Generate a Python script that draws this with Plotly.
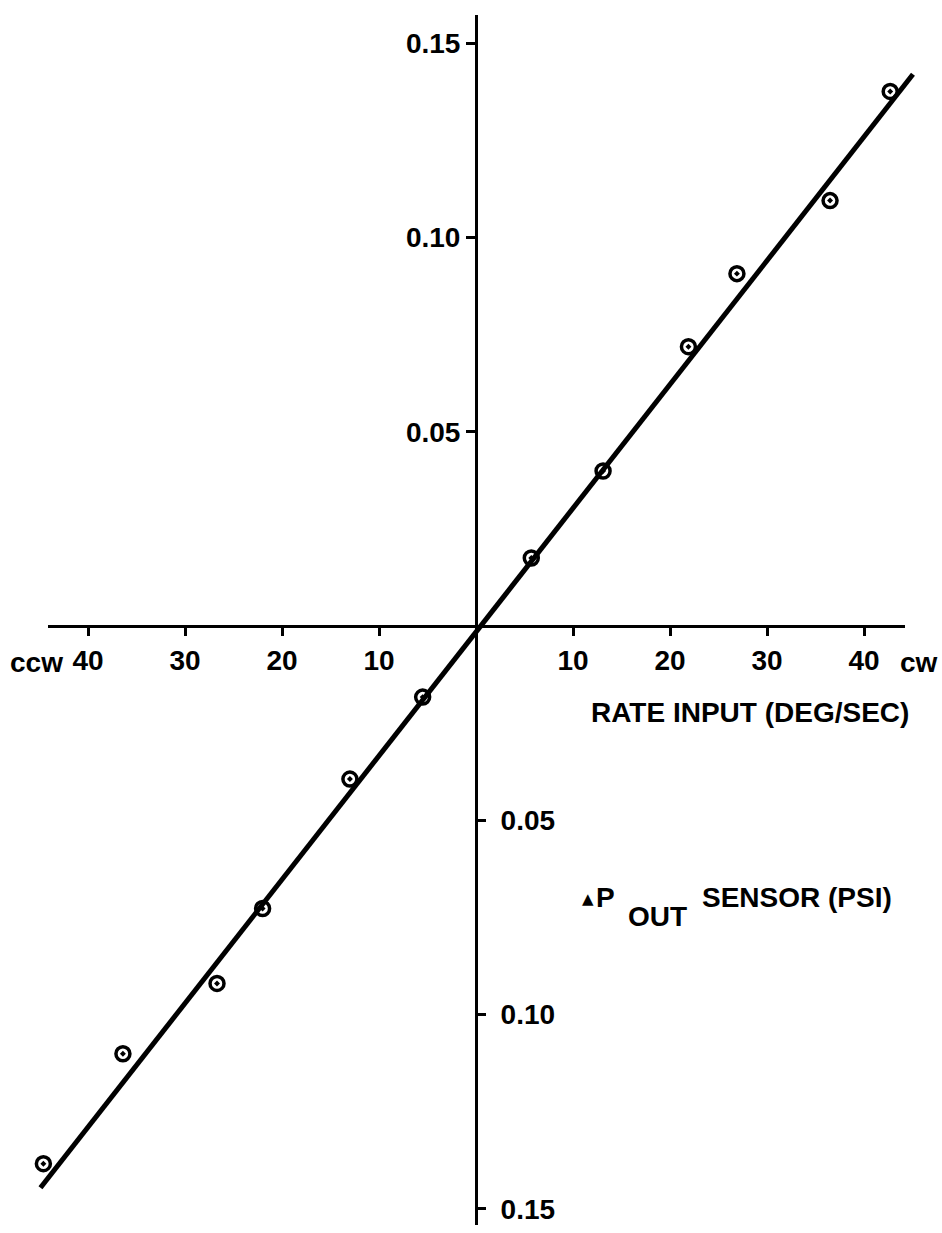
import plotly.graph_objects as go

# Measured response of the sensor: rate input (deg/s, ccw negative) vs. delta-P out (psi)
rate_deg_s = [-44.6, -36.4, -26.7, -22.0, -13.0, -5.5, 5.7, 13.1, 21.9, 26.9, 36.5, 42.7]
dp_out_psi = [-0.1384, -0.1101, -0.0920, -0.0727, -0.0394, -0.0183,
              0.0175, 0.0399, 0.0719, 0.0907, 0.1095, 0.1376]

# Straight-line fit drawn through the data
fit_rate = [-44.9, 45.05]
fit_dp = [-0.1446, 0.1420]

# Axis tick values and their printed labels (magnitudes only)
x_tick_vals = [-40, -30, -20, -10, 10, 20, 30, 40]
x_tick_text = ["40", "30", "20", "10", "10", "20", "30", "40"]
y_tick_vals_pos = [0.05, 0.10, 0.15]
y_tick_vals_neg = [-0.05, -0.10, -0.15]
y_tick_text = ["0.05", "0.10", "0.15"]

W, H = 942, 1233
FONT = "Liberation Sans, Arial, sans-serif"
FS = 28

# page geometry: origin of the crossed axes and scale of each axis
X0, Y0 = 476, 626
KX, KY = 9.7, 3885.0


def fx(px):
    return px / W


def fy(py):
    return (H - py) / H


def xr(p0, p1):
    return [(p0 - X0) / KX, (p1 - X0) / KX]


fig = go.Figure()

fig.add_trace(go.Scatter(
    x=fit_rate, y=fit_dp, mode="lines",
    line=dict(color="black", width=5), hoverinfo="skip", showlegend=False,
))
fig.add_trace(go.Scatter(
    x=rate_deg_s, y=dp_out_psi, mode="markers",
    marker=dict(symbol="circle-open-dot", size=14, color="black",
                line=dict(width=3.5, color="black")),
    showlegend=False,
))
# empty traces so the tick-only axes get their own subplots
fig.add_trace(go.Scatter(x=[], y=[], xaxis="x2", yaxis="y", showlegend=False))
fig.add_trace(go.Scatter(x=[], y=[], xaxis="x", yaxis="y2", showlegend=False))

tick_font = dict(family=FONT, size=FS, color="black", weight="bold")
y_range = [-(1225 - Y0) / KY, (Y0 - 15) / KY]

fig.update_layout(
    width=W, height=H,
    margin=dict(l=0, r=0, t=0, b=0),
    paper_bgcolor="white", plot_bgcolor="rgba(0,0,0,0)",
    xaxis=dict(
        domain=[fx(30), fx(925)], range=xr(30, 925),
        visible=False, fixedrange=True,
    ),
    xaxis2=dict(
        domain=[fx(48), fx(905)], range=xr(48, 905),
        anchor="free", position=fy(Y0), side="bottom",
        showline=True, linecolor="black", linewidth=3,
        ticks="outside", ticklen=8, tickwidth=2.5, tickcolor="black",
        tickvals=x_tick_vals, ticktext=x_tick_text, tickfont=tick_font,
        showgrid=False, zeroline=False, fixedrange=True,
    ),
    yaxis=dict(
        domain=[fy(1225), fy(15)], range=y_range,
        anchor="free", position=fx(X0), side="left",
        showline=True, linecolor="black", linewidth=3,
        ticks="outside", ticklen=9, tickwidth=2.5, tickcolor="black",
        tickvals=y_tick_vals_pos, ticktext=y_tick_text, tickfont=tick_font,
        showgrid=False, zeroline=False, fixedrange=True,
    ),
    yaxis2=dict(
        overlaying="y", range=y_range,
        anchor="free", position=fx(X0), side="right",
        showline=False,
        ticks="outside", ticklen=9, tickwidth=2.5, tickcolor="black",
        ticklabelstandoff=9,
        tickvals=y_tick_vals_neg, ticktext=y_tick_text, tickfont=tick_font,
        showgrid=False, zeroline=False, fixedrange=True,
    ),
    showlegend=False,
)

text_font = dict(family=FONT, size=FS, color="black", weight="bold")
annos = [
    dict(text="ccw", x=fx(36), y=fy(662), xanchor="center"),
    dict(text="cw", x=fx(919), y=fy(662), xanchor="center"),
    dict(text="RATE INPUT (DEG/SEC)", x=fx(590), y=fy(712), xanchor="left"),
    dict(text="▲", x=fx(581), y=fy(899), xanchor="left",
         font=dict(family="DejaVu Sans", size=15, color="black")),
    dict(text="P", x=fx(595), y=fy(898), xanchor="left"),
    dict(text="OUT", x=fx(627), y=fy(916), xanchor="left"),
    dict(text="SENSOR (PSI)", x=fx(701), y=fy(898), xanchor="left"),
]
for a in annos:
    a.setdefault("font", text_font)
    fig.add_annotation(xref="paper", yref="paper", yanchor="middle",
                       showarrow=False, borderpad=0, **a)

fig.write_html("out.html")
